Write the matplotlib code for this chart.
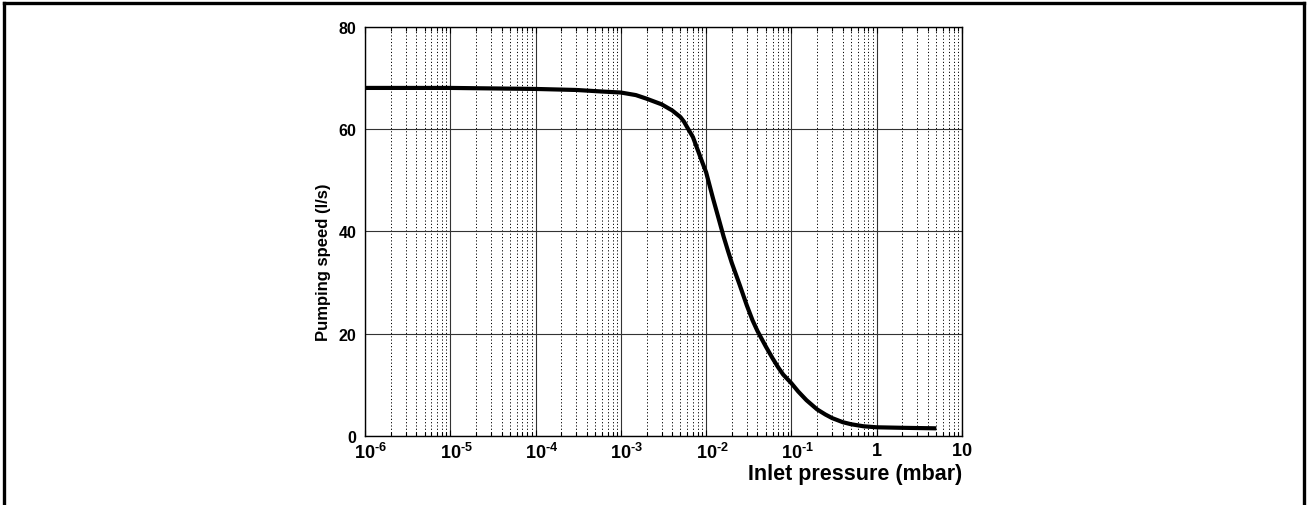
import numpy as np
import matplotlib.pyplot as plt
from matplotlib.lines import Line2D
from matplotlib.transforms import ScaledTranslation
from matplotlib.ticker import FixedLocator, LogLocator, NullFormatter

# pumping speed curve
pressure = [1e-6, 1e-5, 1e-4, 3e-4, 6e-4, 1e-3, 1.5e-3, 2e-3, 3e-3, 4e-3, 5e-3,
            5.5e-3, 6e-3, 7e-3, 8e-3, 9e-3, 1e-2, 1.2e-2, 1.4e-2, 1.6e-2, 1.8e-2,
            2e-2, 2.5e-2, 3e-2, 3.5e-2, 4e-2, 5e-2, 6e-2, 7e-2, 8e-2, 0.1, 0.12,
            0.15, 0.2, 0.25, 0.3, 0.4, 0.5, 0.7, 1, 2, 5]
speed = [68.0, 68.0, 67.8, 67.6, 67.3, 67.1, 66.6, 65.9, 64.8, 63.6, 62.3,
         61.4, 60.3, 58.4, 55.8, 53.5, 51.5, 46.5, 42.5, 39.0, 36.2,
         33.8, 29.3, 25.5, 22.6, 20.5, 17.5, 15.2, 13.4, 12.0, 10.3, 8.7,
         7.0, 5.2, 4.2, 3.5, 2.7, 2.3, 1.9, 1.7, 1.6, 1.5]

xticks = [1e-6, 1e-5, 1e-4, 1e-3, 1e-2, 1e-1, 1, 10]
xticklabels = ['$\\mathbf{10^{\u20106}}$', '$\\mathbf{10^{\u20105}}$',
               '$\\mathbf{10^{\u20104}}$', '$\\mathbf{10^{\u20103}}$',
               '$\\mathbf{10^{\u20102}}$', '$\\mathbf{10^{\u20101}}$',
               '$\\mathbf{1}$', '$\\mathbf{10}$']
yticks = [0, 20, 40, 60, 80]

plt.rcParams['font.family'] = ['Liberation Sans', 'DejaVu Sans']
plt.rcParams['mathtext.fontset'] = 'custom'
plt.rcParams['mathtext.bf'] = 'Liberation Sans:bold'
plt.rcParams['mathtext.rm'] = 'Liberation Sans'

fig = plt.figure(figsize=(13.07, 5.06), dpi=100)
ax = fig.add_axes([365/1307, 69/506, 597/1307, 409.5/506])

ax.plot(pressure, speed, color='black', lw=3.0, solid_joinstyle='round',
        solid_capstyle='butt')
ax.set_xscale('log')
ax.set_xlim(1e-6, 10)
ax.set_ylim(0, 80)

ax.xaxis.set_major_locator(FixedLocator(xticks))
ax.set_xticklabels(xticklabels)
ax.xaxis.set_minor_locator(LogLocator(base=10, subs=np.arange(2, 10), numticks=100))
ax.xaxis.set_minor_formatter(NullFormatter())
ax.set_yticks(yticks)

ax.grid(which='major', axis='both', color='#333333', lw=0.8, ls='-')
ax.grid(which='minor', axis='x', color='black', lw=0.7, ls=(0, (1.2, 2.2)))

ax.tick_params(axis='x', which='both', direction='in', top=True, length=4,
               width=0.8, pad=4, labelsize=13)
ax.tick_params(axis='x', which='minor', length=3)
ax.tick_params(axis='y', length=0, pad=6, labelsize=11.5)
for lab in ax.get_yticklabels():
    lab.set_fontweight('bold')
# the exponent labels sit a little right of their ticks
shift = ScaledTranslation(6/100, 0, fig.dpi_scale_trans)
for lab in ax.get_xticklabels()[:6]:
    lab.set_transform(lab.get_transform() + shift)
for sp in ax.spines.values():
    sp.set_linewidth(1.0)

ax.set_xlabel('Inlet pressure (mbar)', loc='right', fontsize=15.5, fontweight='bold',
              family=['Liberation Sans Narrow', 'Liberation Sans', 'DejaVu Sans'])
ax.xaxis.set_label_coords(1.0, -0.067)
ax.set_ylabel('Pumping speed (l/s)', fontsize=12, fontweight='bold')
ax.yaxis.set_label_coords(-0.057, 0.427)

# outer frame of the datasheet figure
fig.add_artist(Line2D([4/1307, 1304/1307], [1 - 4/506, 1 - 4/506],
                      transform=fig.transFigure, color='black', lw=2.4))
fig.add_artist(Line2D([4/1307, 4/1307], [0, 1 - 4/506],
                      transform=fig.transFigure, color='black', lw=2.4))
fig.add_artist(Line2D([1304/1307, 1304/1307], [0, 1 - 4/506],
                      transform=fig.transFigure, color='black', lw=2.4))

plt.savefig('out.png', dpi=100)
